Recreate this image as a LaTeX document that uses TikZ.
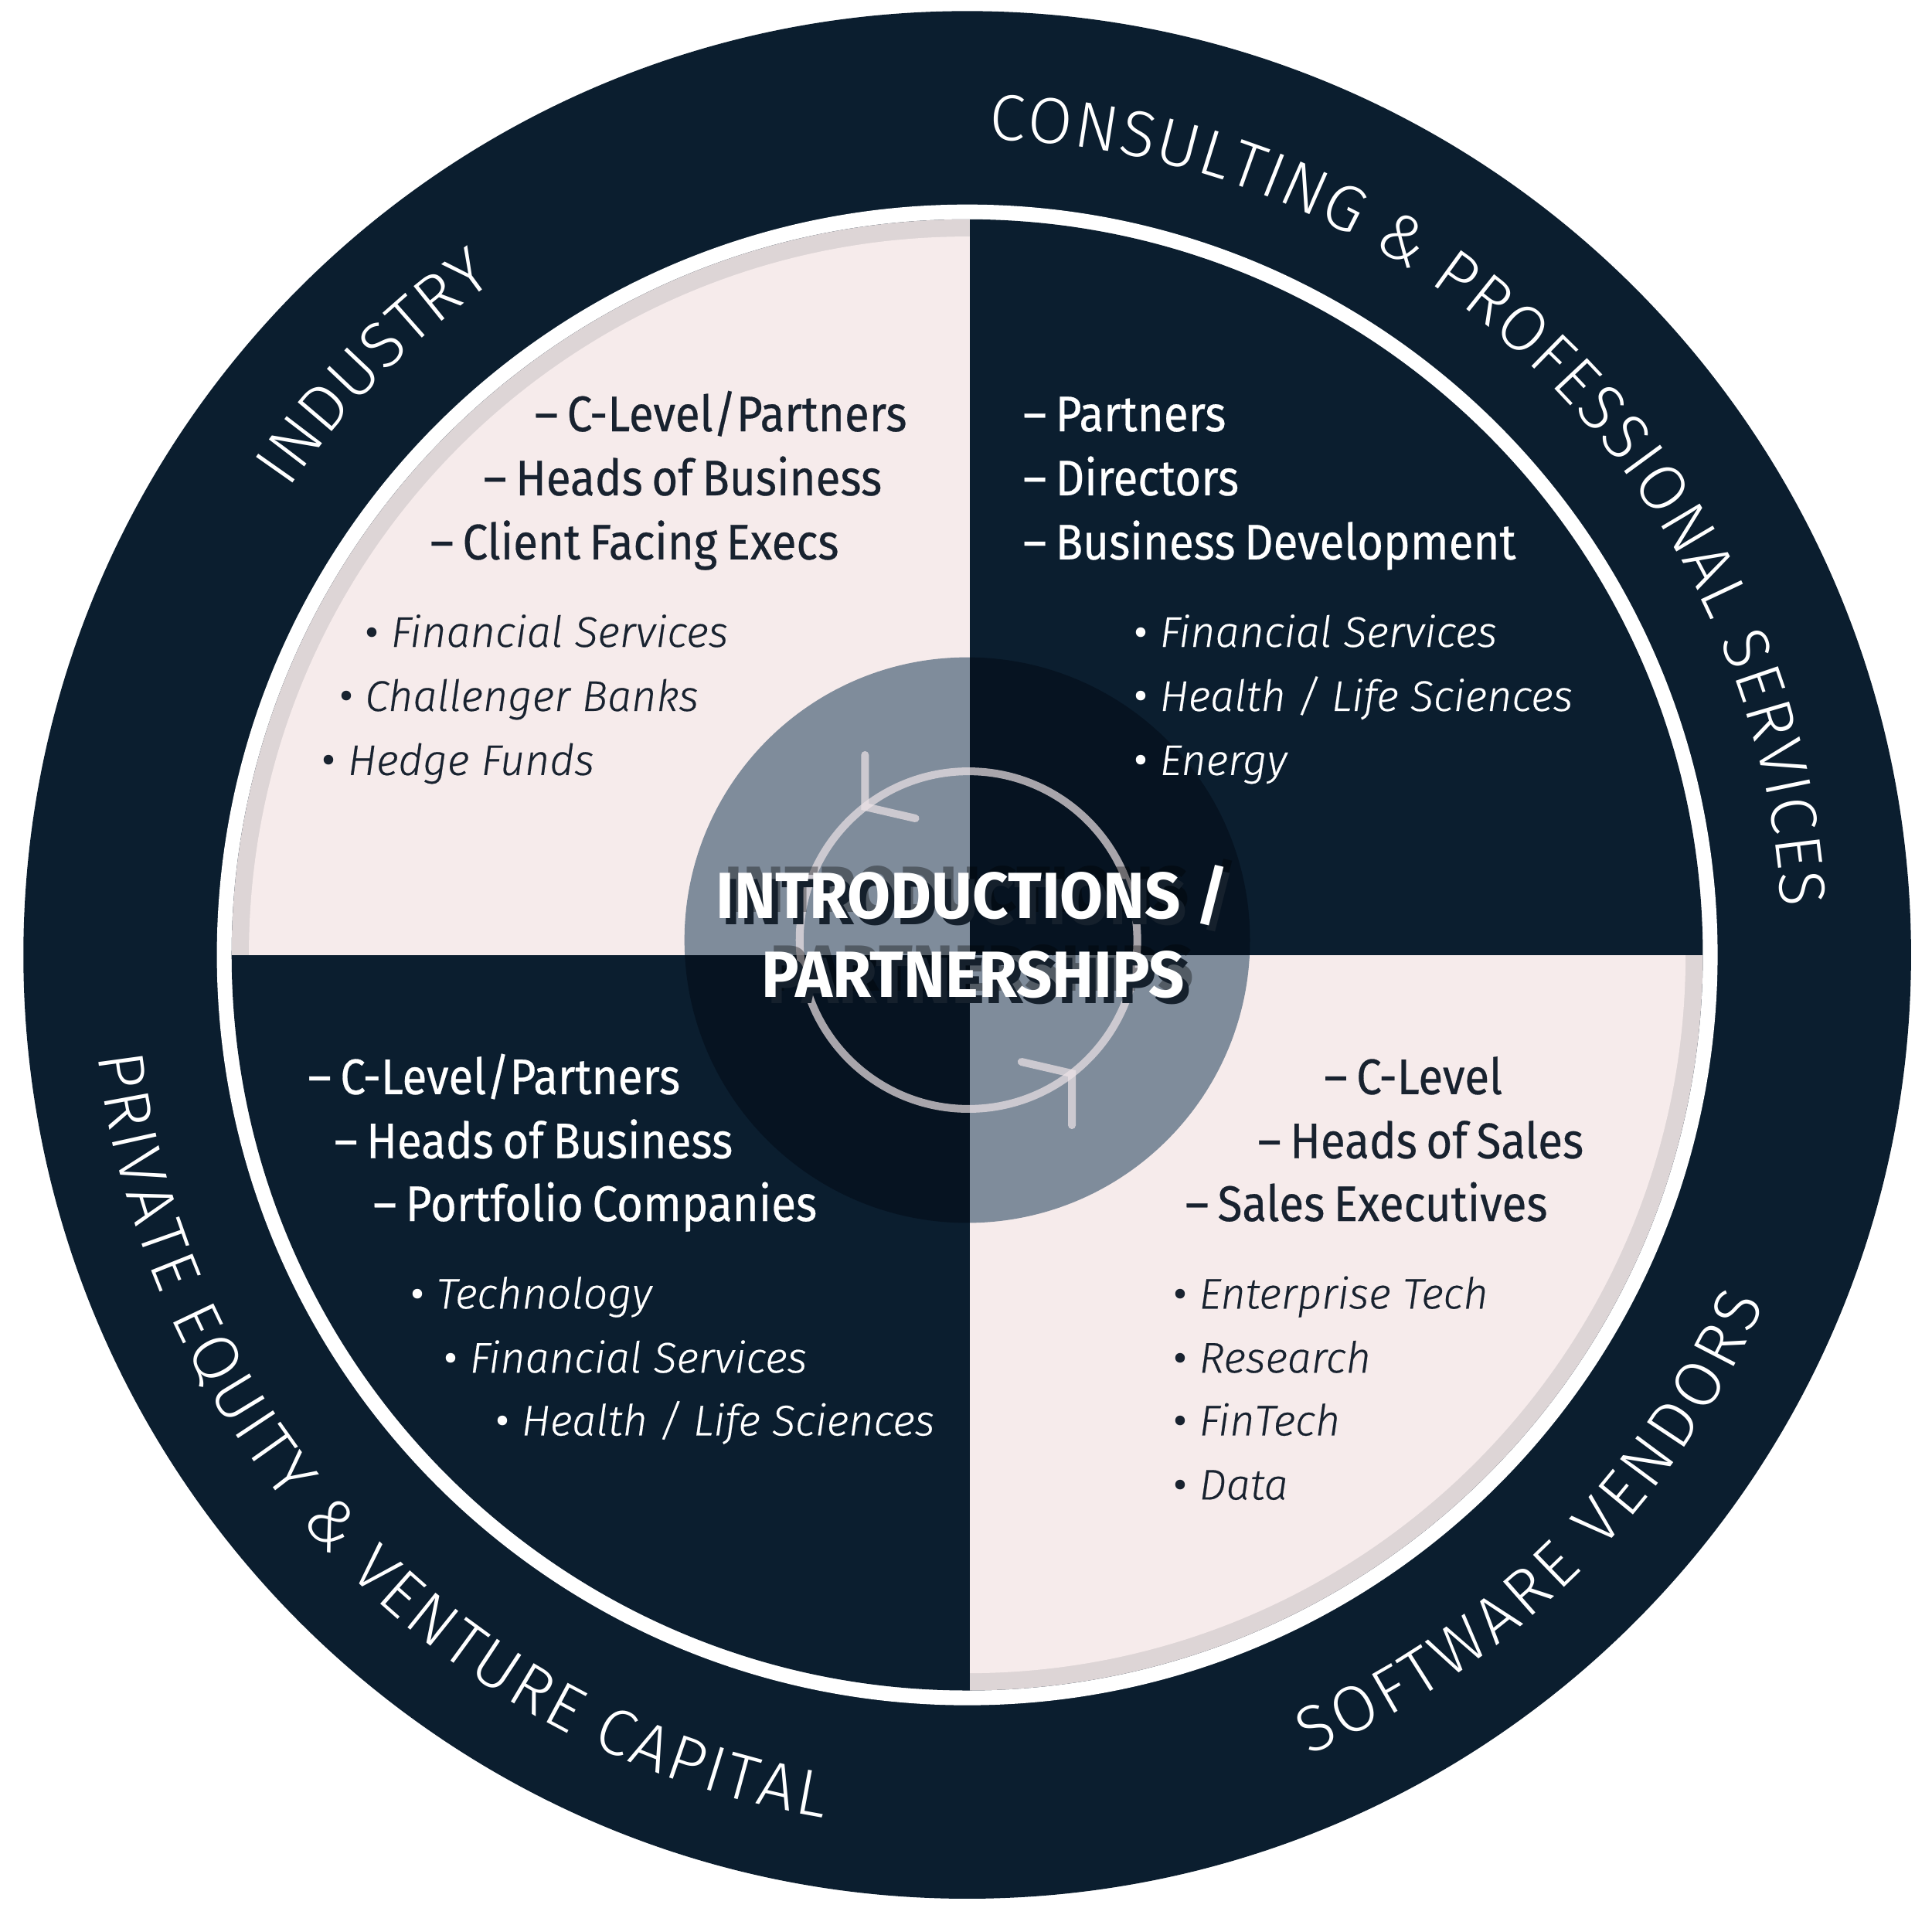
\documentclass[tikz,border=0pt]{standalone}
\usepackage{fontspec}
\usetikzlibrary{decorations.text,calc}
\IfFontExistsTF{Fira Sans Light}{%
  \newfontfamily\ringfont{Fira Sans Light}
}{%
  \newfontfamily\ringfont{Fira Sans}
}
\newfontfamily\headfont{Fira Sans}[FakeStretch=0.9, FakeBold=0.4, WordSpace=0.75]
\IfFontExistsTF{Fira Sans Light Italic}{%
  \newfontfamily\itemfont{Fira Sans Light Italic}[FakeBold=0.35]
}{%
  \newfontfamily\itemfontX{Fira Sans}
  \def\itemfont{\itemfontX\itshape}
}
\newfontfamily\bulfont{Fira Sans}
\newcommand\bul{{\bulfont •}}
\newfontfamily\ctrfontX{Fira Sans}[FakeStretch=0.96]
\def\ctrfont{\ctrfontX\bfseries}
\definecolor{navy}{HTML}{0B1E2F}
\definecolor{blush}{HTML}{F6EBEB}
\definecolor{band}{HTML}{DDD5D6}
\definecolor{slate}{HTML}{7F8C9B}
\definecolor{abyss}{HTML}{061321}
\definecolor{ink}{HTML}{18222F}
\definecolor{loop}{HTML}{EEE4E7}
\definecolor{shade}{HTML}{15202C}
\begin{document}
\begin{tikzpicture}[x=0.5pt,y=0.5pt,
  hd/.style={inner sep=0pt, anchor=base, font=\headfont\fontsize{20.3}{24}\selectfont},
  hdw/.style={hd, anchor=base west},
  it/.style={inner sep=0pt, anchor=base west, font=\itemfont\fontsize{17.4}{21}\selectfont},
  onlight/.style={text=ink}, ondark/.style={text=white},
  ctr/.style={inner sep=0pt, anchor=base, font=\ctrfont\fontsize{26.5}{30}\selectfont},
  loopline/.style={draw=loop, draw opacity=0.7, line width=3.15pt, line cap=round}]
\useasboundingbox (-785,-773) rectangle (783,775);
\fill[white] (-785,-773) rectangle (783,775);
% rings
\fill[navy] (0,0) circle (766);
\fill[white] (0,0) circle (609);
\begin{scope}
  \clip (0,0) circle (597);
  \fill[navy] (-700,-700) rectangle (700,700);
  \fill[band] (-700,0) rectangle (2,700);
  \fill[band] (2,-700) rectangle (700,0);
\end{scope}
\begin{scope}
  \clip (0,0) circle (583);
  \fill[blush] (-700,0) rectangle (2,700);
  \fill[blush] (2,-700) rectangle (700,0);
\end{scope}
% centre disc
\begin{scope}
  \clip (0,12) circle (229.5);
  \fill[slate] (-300,0) rectangle (2,300);
  \fill[slate] (2,-300) rectangle (300,0);
  \fill[abyss] (2,0) rectangle (300,300);
  \fill[abyss] (-300,-300) rectangle (2,0);
\end{scope}
% cycle arrow
\coordinate (hub) at (1,12);
\draw[loopline] (hub) circle (137);
\coordinate (tipA) at ($(hub)+(127.8:137)$);
\coordinate (tipB) at ($(hub)+(-52.2:137)$);
\draw[loopline] ([shift={(90:42)}]tipA) -- (tipA) -- ([shift={(-13:42)}]tipA);
\draw[loopline] ([shift={(270:42)}]tipB) -- (tipB) -- ([shift={(167:42)}]tipB);
% ring labels
\path[decorate, decoration={text along path, text align={fit to path}, text color=white,
  text={|\ringfont\fontsize{26.4}{30}\selectfont|INDUSTRY}}]
  (145.5:668) arc[start angle=145.5, end angle=125.0, radius=668];
\path[decorate, decoration={text along path, text align={fit to path}, text color=white,
  text={|\ringfont\fontsize{26.4}{30}\selectfont|CONSULTING {\&} PROFESSIONAL SERVICES}}]
  (88.5:662) arc[start angle=88.5, end angle=3.4, radius=662];
\path[decorate, decoration={text along path, text align={fit to path}, text color=white,
  text={|\ringfont\fontsize{26.4}{30}\selectfont|PRIVATE EQUITY {\&} VENTURE CAPITAL}}]
  (186.6:710) arc[start angle=186.6, end angle=260.5, radius=710];
\path[decorate, decoration={text along path, text align={fit to path}, text color=white,
  text={|\ringfont\fontsize{26.4}{30}\selectfont|SOFTWARE VENDORS}}]
  (-66.9:706) arc[start angle=-66.9, end angle=-23.6, radius=706];
% top-left
\node[hd, onlight] (tlA) at (-200,425) {– C-Level/Partners};
\node[hd, onlight] (tlB) at (-231,373) {– Heads of Business};
\node[hd, onlight] (tlC) at (-270,321) {– Client Facing Execs};
\node[it, onlight] (tlD) at (-489,250) {\bul\ Financial Services};
\node[it, onlight] (tlE) at (-510,198) {\bul\ Challenger Banks};
\node[it, onlight] (tlF) at (-524,146) {\bul\ Hedge Funds};
% top-right
\node[hdw, ondark] (trA) at (45,425) {– Partners};
\node[hdw, ondark] (trB) at (45,373) {– Directors};
\node[hdw, ondark] (trC) at (45,321) {– Business Development};
\node[it, ondark] (trD) at (135,250) {\bul\ Financial Services};
\node[it, ondark] (trE) at (135,198) {\bul\ Health / Life Sciences};
\node[it, ondark] (trF) at (135,146) {\bul\ Energy};
% bottom-left
\node[hd, ondark] (blA) at (-384,-113) {– C-Level/Partners};
\node[hd, ondark] (blB) at (-352,-165) {– Heads of Business};
\node[hd, ondark] (blC) at (-302,-216) {– Portfolio Companies};
\node[it, ondark] (blD) at (-452,-287) {\bul\ Technology};
\node[it, ondark] (blE) at (-425,-339) {\bul\ Financial Services};
\node[it, ondark] (blF) at (-383,-390) {\bul\ Health / Life Sciences};
% bottom-right
\node[hd, onlight] (brA) at (362,-113) {– C-Level};
\node[hd, onlight] (brB) at (368,-165) {– Heads of Sales};
\node[hd, onlight] (brC) at (324,-216) {– Sales Executives};
\node[it, onlight] (brD) at (167,-287) {\bul\ Enterprise Tech};
\node[it, onlight] (brE) at (167,-339) {\bul\ Research};
\node[it, onlight] (brF) at (167,-390) {\bul\ FinTech};
\node[it, onlight] (brG) at (167,-442) {\bul\ Data};
% centre title
\node[ctr, text=black, text opacity=0.35] (ghA) at (11,34.5) {INTRODUCTIONS /};
\node[ctr, text=black, text opacity=0.35] (ghB) at (12,-29.5) {PARTNERSHIPS};
\node[ctr, text=shade] (shA) at (9,24.5) {INTRODUCTIONS /};
\node[ctr, text=shade] (shB) at (10,-39.5) {PARTNERSHIPS};
\node[ctr, text=white] (intro) at (4,29.5) {INTRODUCTIONS /};
\node[ctr, text=white] (partner) at (5,-34.5) {PARTNERSHIPS};
\end{tikzpicture}
\end{document}
